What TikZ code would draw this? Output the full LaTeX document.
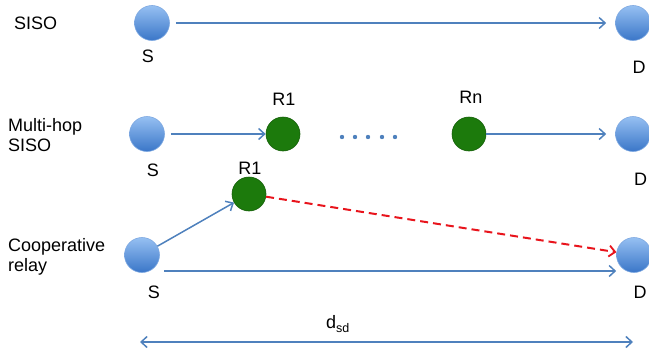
\documentclass[tikz,border=0pt]{standalone}
\usepackage{fontspec}
\setmainfont{Liberation Sans}
\usetikzlibrary{arrows.meta}
\definecolor{lineblue}{RGB}{79,129,189}
\definecolor{topblue}{RGB}{150,192,242}
\definecolor{botblue}{RGB}{58,118,200}
\definecolor{rimblue}{RGB}{125,168,225}
\definecolor{relaygreen}{RGB}{28,122,12}
\definecolor{rimgreen}{RGB}{20,95,8}
\definecolor{dashred}{RGB}{232,20,28}
\tikzset{
  endnode/.style={circle, minimum size=35pt, inner sep=0pt, top color=topblue, bottom color=botblue, draw=rimblue, line width=0.6pt},
  relaynode/.style={circle, minimum size=34pt, inner sep=0pt, fill=relaygreen, draw=rimgreen, line width=0.6pt},
  lbl/.style={inner sep=0pt, font=\fontsize{18}{20.5}\selectfont},
  link/.style={draw=lineblue, line width=1.5pt, -{Straight Barb[length=6pt,width=11pt,line width=1.5pt]}},
  redlink/.style={draw=dashred, line width=2pt, dash pattern=on 8pt off 5pt, -{Straight Barb[length=6pt,width=11pt,line width=1.8pt]}},
  dot/.style={fill=lineblue}
}
\begin{document}
\begin{tikzpicture}[x=1pt,y=-1pt]
\clip (0,0) rectangle (649,351);
% row 1
\node[lbl, anchor=west] (t1) at (14,23) {SISO};
\node[endnode] (S1) at (152,23) {};
\node[endnode] (D1) at (633,23) {};
\node[lbl] (s1) at (148,56) {S};
\node[lbl] (d1) at (639,67) {D};
\draw[link, shorten <=6pt, shorten >=9pt] (S1) -- (D1);
% row 2
\node[lbl, anchor=west, align=left] (t2) at (8,135) {Multi-hop\\SISO};
\node[endnode] (S2) at (147,134) {};
\node[relaynode] (R21) at (283,134) {};
\node[relaynode] (R2n) at (469,134) {};
\node[endnode] (D2) at (633,134) {};
\node[lbl] (s2) at (153,170) {S};
\node[lbl] (r21) at (284,99) {R1};
\node[lbl] (r2n) at (471,97) {Rn};
\node[lbl] (d2) at (640.5,179) {D};
\draw[link, shorten <=6pt] (S2) -- (R21);
\draw[link, shorten >=9pt] (R2n) -- (D2);
\foreach \x in {342,355,368,382,395} \fill[dot] (\x,137) circle (2.2pt);
% row 3
\node[lbl, anchor=west, align=left] (t3) at (8,257) {Cooperative\\relay};
\node[endnode] (S3) at (142,255) {};
\node[relaynode] (R31) at (249,194) {};
\node[endnode] (D3) at (634,255) {};
\node[lbl] (s3) at (154,292) {S};
\node[lbl] (r31) at (250,168) {R1};
\node[lbl] (d3) at (640,292) {D};
\draw[link] (S3) -- (R31);
\draw[redlink] (R31) -- (D3);
\draw[link, shorten <=4.5pt] ([yshift=-16pt]S3.east) -- ([yshift=-16pt]D3.west);
% distance
\coordinate (dl) at (140,342);
\coordinate (dr) at (633,342);
\draw[draw=lineblue, line width=1.5pt, {Straight Barb[length=6pt,width=11pt,line width=1.5pt]}-{Straight Barb[length=6pt,width=11pt,line width=1.5pt]}] (dl) -- (dr);
\node[lbl] (dsd) at (338,324) {d\textsubscript{\fontsize{12.5}{12.5}\selectfont sd}};
\end{tikzpicture}
\end{document}
